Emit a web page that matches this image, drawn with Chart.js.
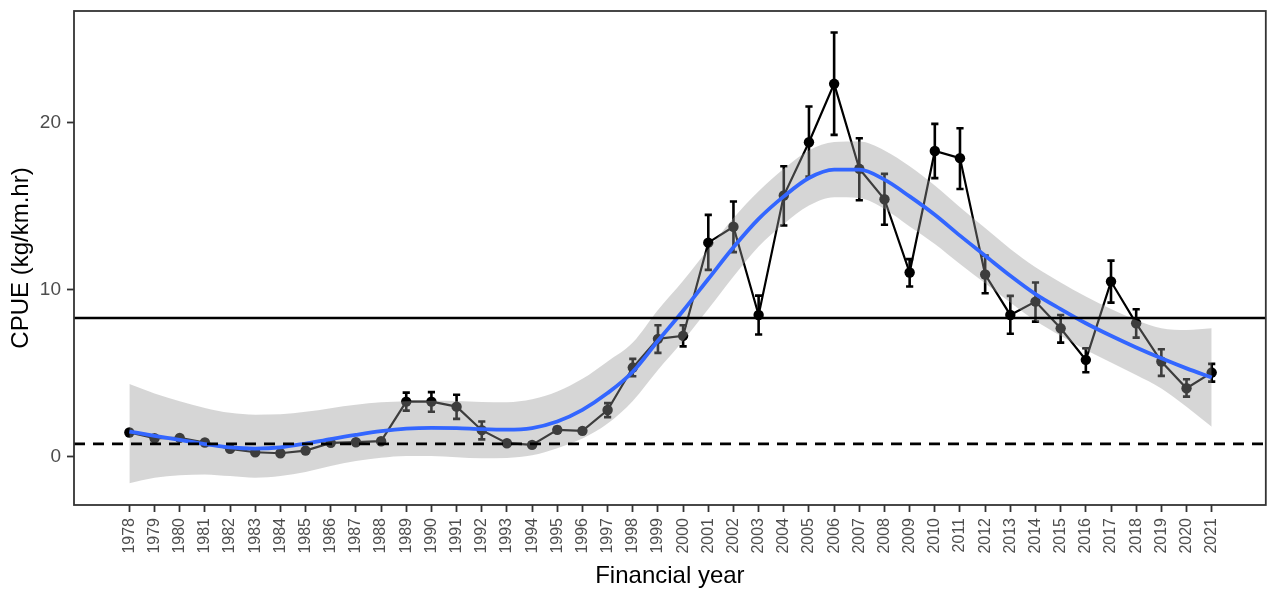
<!DOCTYPE html>
<html>
<head>
<meta charset="utf-8">
<script src="https://cdn.jsdelivr.net/npm/chart.js@4/dist/chart.umd.min.js"></script>
<style>
  html, body { margin: 0; padding: 0; background: #ffffff; }
  #wrap { width: 1271px; height: 590px; position: relative; }
</style>
</head>
<body>
<div id="wrap"><canvas id="cpueChart" width="1271" height="590"></canvas></div>
<script>
// Financial years
const years = [1978, 1979, 1980, 1981, 1982, 1983, 1984, 1985, 1986, 1987, 1988,
  1989, 1990, 1991, 1992, 1993, 1994, 1995, 1996, 1997, 1998, 1999, 2000,
  2001, 2002, 2003, 2004, 2005, 2006, 2007, 2008, 2009, 2010, 2011, 2012,
  2013, 2014, 2015, 2016, 2017, 2018, 2019, 2020, 2021];

// Annual CPUE (kg/km.hr)
const cpue = [1.46, 1.12, 1.14, 0.86, 0.48, 0.28, 0.22, 0.38, 0.84, 0.88, 0.94,
  3.31, 3.31, 3.01, 1.60, 0.82, 0.72, 1.62, 1.56, 2.81, 5.35, 7.07, 7.25,
  12.83, 13.78, 8.50, 15.65, 18.84, 22.34, 17.25, 15.43, 11.04, 18.32, 17.89, 10.92,
  8.50, 9.30, 7.70, 5.81, 10.50, 8.00, 5.71, 4.11, 5.05];

// Error bar limits
const cpueLow = [1.36, 1.02, 1.04, 0.76, 0.38, 0.18, 0.12, 0.28, 0.74, 0.78, 0.84,
  2.77, 2.70, 2.28, 1.05, 0.70, 0.60, 1.45, 1.40, 2.38, 4.83, 6.23, 6.62,
  11.20, 12.26, 7.33, 13.86, 16.78, 19.28, 15.37, 13.90, 10.20, 16.69, 16.04, 9.80,
  7.37, 8.10, 6.84, 5.07, 9.24, 7.14, 4.85, 3.61, 4.51];
const cpueHigh = [1.56, 1.22, 1.24, 0.96, 0.58, 0.38, 0.32, 0.48, 0.94, 0.98, 1.04,
  3.85, 3.88, 3.72, 2.12, 0.94, 0.84, 1.79, 1.72, 3.22, 5.87, 7.88, 7.88,
  14.49, 15.29, 9.66, 17.40, 20.98, 25.41, 19.08, 16.95, 11.84, 19.94, 19.68, 12.05,
  9.64, 10.44, 8.50, 6.51, 11.75, 8.84, 6.45, 4.65, 5.57];

// Smoothed trend with its confidence band
const trend = [1.52, 1.26, 1.02, 0.76, 0.57, 0.50, 0.57, 0.80, 1.07, 1.32, 1.54,
  1.69, 1.74, 1.72, 1.66, 1.63, 1.73, 2.12, 2.82, 3.82, 5.10, 6.95, 8.75,
  10.65, 12.55, 14.25, 15.60, 16.70, 17.20, 17.20, 16.60, 15.60, 14.50, 13.25, 12.05,
  10.85, 9.75, 8.85, 8.00, 7.25, 6.55, 5.90, 5.30, 4.75];
const trendHigh = [4.37, 3.80, 3.33, 2.93, 2.64, 2.53, 2.55, 2.70, 2.92, 3.12, 3.27,
  3.33, 3.36, 3.34, 3.29, 3.28, 3.45, 3.92, 4.68, 5.72, 6.85, 8.80, 10.55,
  12.45, 14.30, 15.90, 17.25, 18.35, 18.85, 18.88, 18.35, 17.40, 16.25, 14.95, 13.70,
  12.45, 11.35, 10.45, 9.60, 8.85, 8.20, 7.70, 7.60, 7.70];
const trendLow = [-1.58, -1.25, -1.10, -1.05, -1.15, -1.25, -1.15, -0.90, -0.55, -0.25, -0.05,
  0.06, 0.05, -0.02, -0.08, -0.06, 0.10, 0.52, 1.10, 2.00, 3.35, 5.20, 6.95,
  8.85, 10.80, 12.60, 13.95, 15.05, 15.55, 15.50, 14.85, 13.80, 12.75, 11.55, 10.40,
  9.25, 8.15, 7.25, 6.40, 5.65, 4.90, 4.10, 3.00, 1.80];

// Reference levels
const targetLevel = 8.32;
const limitLevel = 0.78;

// Axis tick values
const yTickValues = [0, 10, 20];

const toPoints = arr => arr.map((v, i) => ({ x: years[i], y: v }));

const FONT = '"Liberation Sans", Arial, sans-serif';

// Vertical error bars with caps, drawn beneath the series and band
const errorBarPlugin = {
  id: 'errorBars',
  beforeDatasetsDraw(chart) {
    const { ctx, chartArea, scales } = chart;
    const xs = scales.x, ys = scales.y;
    ctx.save();
    ctx.beginPath();
    ctx.rect(chartArea.left, chartArea.top, chartArea.width, chartArea.height);
    ctx.clip();
    ctx.strokeStyle = '#000000';
    ctx.lineWidth = 2.6;
    ctx.lineCap = 'butt';
    years.forEach((yr, i) => {
      const px = xs.getPixelForValue(yr);
      const top = ys.getPixelForValue(cpueHigh[i]);
      const bot = ys.getPixelForValue(cpueLow[i]);
      ctx.beginPath();
      ctx.moveTo(px, top); ctx.lineTo(px, bot);
      ctx.moveTo(px - 3.6, top); ctx.lineTo(px + 3.6, top);
      ctx.moveTo(px - 3.6, bot); ctx.lineTo(px + 3.6, bot);
      ctx.stroke();
    });
    ctx.restore();
  }
};

// Horizontal reference lines across the panel, then the panel frame
const referencePlugin = {
  id: 'referenceLines',
  afterDatasetsDraw(chart) {
    const { ctx, chartArea, scales } = chart;
    const ys = scales.y;
    ctx.save();
    ctx.strokeStyle = '#000000';
    ctx.lineCap = 'butt';

    ctx.lineWidth = 2.6;
    ctx.setLineDash([]);
    const yt = ys.getPixelForValue(targetLevel);
    ctx.beginPath();
    ctx.moveTo(chartArea.left, yt); ctx.lineTo(chartArea.right, yt);
    ctx.stroke();

    ctx.lineWidth = 2.8;
    ctx.setLineDash([11, 8]);
    const yl = ys.getPixelForValue(limitLevel);
    ctx.beginPath();
    ctx.moveTo(chartArea.left, yl); ctx.lineTo(chartArea.right, yl);
    ctx.stroke();

    ctx.setLineDash([]);
    ctx.strokeStyle = '#333333';
    ctx.lineWidth = 1.8;
    ctx.strokeRect(chartArea.left, chartArea.top, chartArea.width, chartArea.height);
    ctx.restore();
  }
};

new Chart(document.getElementById('cpueChart'), {
  type: 'line',
  data: {
    datasets: [
      {
        label: 'Trend',
        data: toPoints(trend),
        borderColor: '#3366FF',
        borderWidth: 3.8,
        pointRadius: 0,
        cubicInterpolationMode: 'monotone',
        fill: false,
        order: 1
      },
      {
        label: 'Band low',
        data: toPoints(trendLow),
        borderWidth: 0,
        borderColor: 'rgba(0,0,0,0)',
        pointRadius: 0,
        cubicInterpolationMode: 'monotone',
        fill: false,
        order: 3
      },
      {
        label: 'Band high',
        data: toPoints(trendHigh),
        borderWidth: 0,
        borderColor: 'rgba(0,0,0,0)',
        backgroundColor: 'rgba(153,153,153,0.4)',
        pointRadius: 0,
        cubicInterpolationMode: 'monotone',
        fill: '-1',
        order: 2
      },
      {
        label: 'CPUE',
        data: toPoints(cpue),
        borderColor: '#000000',
        borderWidth: 2.2,
        pointRadius: 5.2,
        pointBorderWidth: 0,
        pointBackgroundColor: '#000000',
        tension: 0,
        fill: false,
        order: 4
      }
    ]
  },
  options: {
    responsive: false,
    animation: false,
    devicePixelRatio: 1,
    layout: { padding: { top: 11, right: 1, left: 0, bottom: 0 } },
    plugins: {
      legend: { display: false },
      tooltip: { enabled: false }
    },
    scales: {
      x: {
        type: 'linear',
        min: 1975.8,
        max: 2023.15,
        afterBuildTicks: s => { s.ticks = years.map(v => ({ value: v })); },
        afterFit: s => { s.height = 85; s.paddingLeft = 0; s.paddingRight = 0; },
        border: { display: false },
        grid: {
          display: true,
          drawOnChartArea: false,
          drawTicks: true,
          tickLength: 7,
          tickColor: '#333333',
          tickWidth: 1.8
        },
        ticks: {
          autoSkip: false,
          minRotation: 90,
          maxRotation: 90,
          padding: 6,
          color: '#4d4d4d',
          font: { family: FONT, size: 16 },
          callback: v => String(v)
        },
        title: {
          display: true,
          text: 'Financial year',
          color: '#000000',
          font: { family: FONT, size: 24, lineHeight: 1.1 },
          padding: { top: 0, bottom: 0 }
        }
      },
      y: {
        type: 'linear',
        min: -2.88,
        max: 26.7,
        afterBuildTicks: s => { s.ticks = yTickValues.map(v => ({ value: v })); },
        afterFit: s => { s.width = 74; s.paddingTop = 0; s.paddingBottom = 0; },
        border: { display: false },
        grid: {
          display: true,
          drawOnChartArea: false,
          drawTicks: true,
          tickLength: 7,
          tickColor: '#333333',
          tickWidth: 1.8
        },
        ticks: {
          padding: 6,
          color: '#4d4d4d',
          font: { family: FONT, size: 19 },
          callback: v => String(v)
        },
        title: {
          display: true,
          text: 'CPUE (kg/km.hr)',
          color: '#000000',
          font: { family: FONT, size: 24, lineHeight: 1.1 },
          padding: { top: 8.5, bottom: 0 }
        }
      }
    }
  },
  plugins: [errorBarPlugin, referencePlugin]
});
</script>
</body>
</html>
